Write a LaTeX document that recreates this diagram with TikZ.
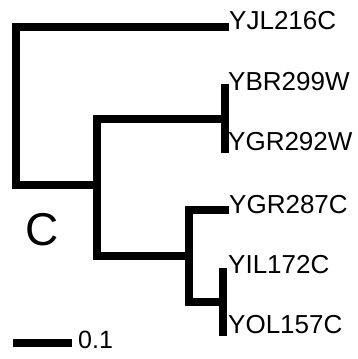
\documentclass[tikz,border=0pt]{standalone}
\usepackage{fontspec}
\setmainfont{Liberation Sans}
\begin{document}
\begin{tikzpicture}[x=1pt,y=-1pt,
  branch/.style={line width=7.5pt, line join=miter, line cap=butt},
  leaflabel/.style={anchor=base west, inner sep=0pt, font=\fontsize{26}{30}\selectfont},
  scalelabel/.style={anchor=base west, inner sep=0pt, font=\fontsize{25}{30}\selectfont}]
\useasboundingbox (0,0) rectangle (358,359);
% coordinates
\coordinate (rtop) at (16,27);
\coordinate (rbot) at (16,185);
\coordinate (lYJL) at (229,27);
\coordinate (n2) at (97,185);
\coordinate (n2top) at (97,119);
\coordinate (n2bot) at (97,256);
\coordinate (n3) at (225,119);
\coordinate (lYBR) at (225,84);
\coordinate (lYGR2) at (225,153);
\coordinate (n4) at (189,256);
\coordinate (n4top) at (189,210);
\coordinate (n4bot) at (189,302);
\coordinate (lYGR8) at (229,210);
\coordinate (n5) at (223,302);
\coordinate (lYIL) at (223,268);
\coordinate (lYOL) at (223,336);
\coordinate (sb1) at (13,343);
\coordinate (sb2) at (72,343);
% branches
\draw[branch] (n2) -- (rbot) -- (rtop) -- (lYJL);
\draw[branch] (n3) -- (n2top) -- (n2bot) -- (n4);
\draw[branch] (lYBR) -- (lYGR2);
\draw[branch] (lYGR8) -- (n4top) -- (n4bot) -- (n5);
\draw[branch] (lYIL) -- (lYOL);
\draw[branch] (sb1) -- (sb2);
% labels
\node[leaflabel] (tYJL) at (229,29) {YJL216C};
\node[leaflabel] (tYBR) at (228,90) {YBR299W};
\node[leaflabel] (tYGR2) at (228,150) {YGR292W};
\node[leaflabel] (tYGR8) at (229,213) {YGR287C};
\node[leaflabel] (tYIL) at (228,273) {YIL172C};
\node[leaflabel] (tYOL) at (228,333) {YOL157C};
\node[anchor=base west, inner sep=0pt, font=\fontsize{46}{50}\selectfont] (tC) at (25,245) {C};
\node[scalelabel] (tsb) at (78,348) {0.1};
\end{tikzpicture}
\end{document}
